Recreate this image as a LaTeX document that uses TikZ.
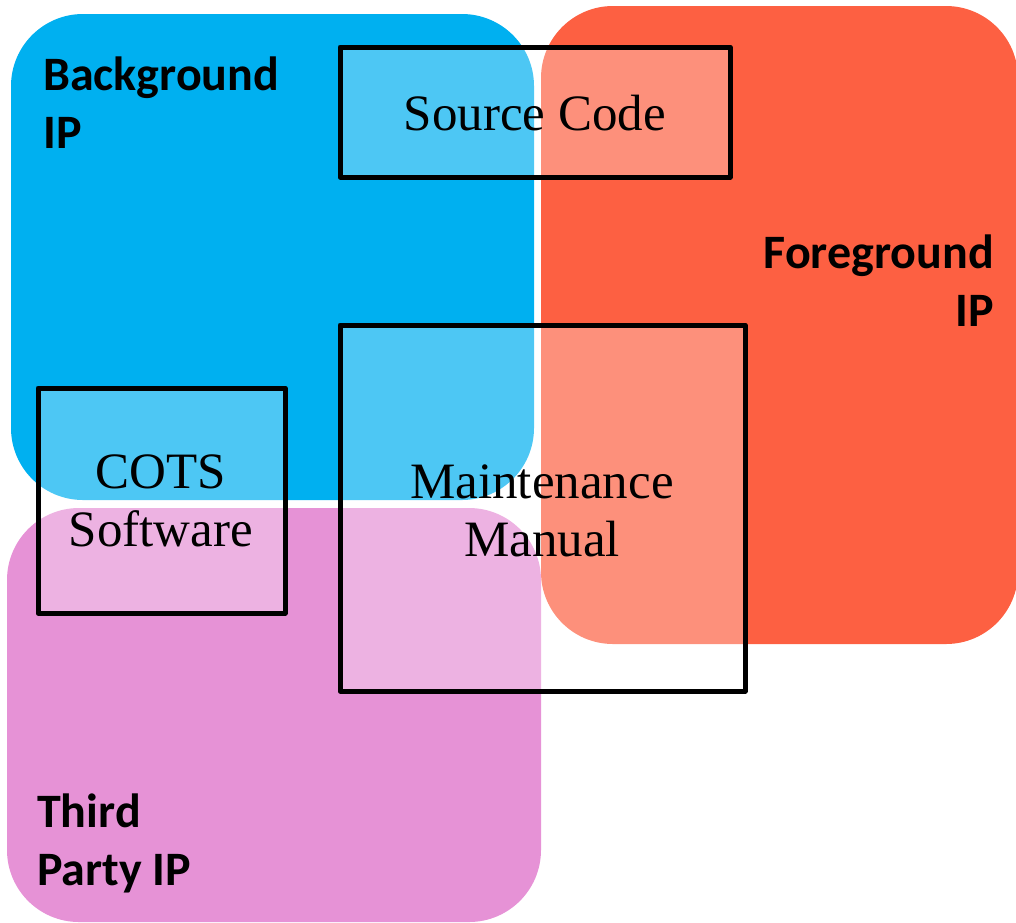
\documentclass[tikz,border=0pt]{standalone}
\usepackage{fontspec}
\setmainfont{Liberation Serif}
\newfontfamily\labelfont{Carlito}
\begin{document}
\begin{tikzpicture}[x=1pt,y=-1pt,
  ipblock/.style={rounded corners=72pt},
  boxframe/.style={draw=black,line width=5pt,fill=white,fill opacity=0.3,text opacity=1,line join=round},
  iplabel/.style={font=\labelfont\bfseries\fontsize{48}{58}\selectfont,inner sep=0pt},
  boxtext/.style={font=\fontsize{51}{58}\selectfont,inner sep=0pt,align=center}]
\useasboundingbox (0,0) rectangle (1016,922);
\definecolor{ipblue}{HTML}{00B0F0}
\definecolor{iporange}{HTML}{FD6042}
\definecolor{ippink}{HTML}{E692D6}
\fill[ipblue,ipblock] (11,14) rectangle (534,500);
\fill[ippink,ipblock] (7,508) rectangle (541,922);
\fill[iporange,ipblock] (541,6) rectangle (1018,644);
\node[iplabel,anchor=base west,align=left] (bg) at (43,148) {Background\\IP};
\node[iplabel,anchor=base east,align=right] (fg) at (994,326) {Foreground\\IP};
\node[iplabel,anchor=base west,align=left] (tp) at (37,885) {Third\\Party IP};
\draw[boxframe] (340,47) rectangle (730,177);
\draw[boxframe] (38,388) rectangle (285,613);
\draw[boxframe] (340,325) rectangle (745,691);
\node[boxtext] (sc) at (535,113) {Source Code};
\node[boxtext] (cots) at (161,501) {COTS\\Software};
\node[boxtext] (mm) at (542,511) {Maintenance\\Manual};
\end{tikzpicture}
\end{document}
